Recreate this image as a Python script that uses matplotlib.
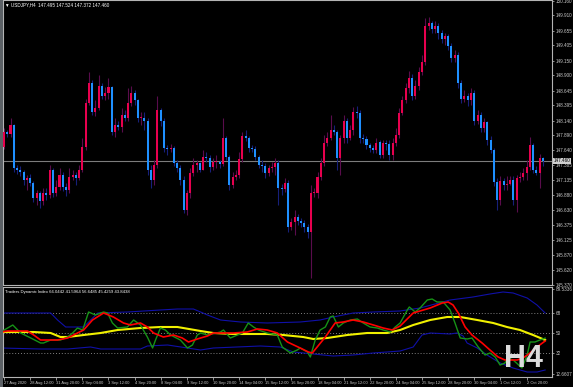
import matplotlib
matplotlib.use('Agg')
import matplotlib.pyplot as plt

# USDJPY H4 candles, one value per bar (bar 0 = 27 Aug 2020 04:00)
first_open = 147.69
closes = [147.94, 147.91, 148.06, 147.34, 147.30, 147.27, 147.14, 147.17, 147.09, 146.83,
          146.92, 146.78, 146.92, 146.88, 147.30, 146.92, 147.02, 147.22, 147.02, 146.97,
          147.19, 147.22, 147.17, 147.30, 147.69, 148.43, 148.78, 148.28, 148.35, 148.73,
          148.56, 148.60, 148.70, 147.94, 148.06, 148.03, 148.23, 148.19, 148.43, 148.60,
          148.48, 148.18, 148.19, 148.14, 147.30, 147.14, 147.39, 148.31, 148.14, 147.67,
          147.66, 147.67, 147.42, 147.34, 147.14, 146.63, 146.92, 147.25, 147.39, 147.42,
          147.30, 147.52, 147.51, 147.35, 147.44, 147.44, 147.40, 147.84, 147.52, 147.05,
          147.19, 147.22, 147.49, 147.88, 147.84, 147.67, 147.66, 147.52, 147.39, 147.37,
          147.25, 147.34, 147.35, 147.42, 147.00, 146.99, 147.09, 146.35, 146.43, 146.51,
          146.45, 146.41, 146.35, 146.26, 146.92, 146.92, 147.19, 147.42, 147.77, 147.84,
          147.98, 147.94, 147.51, 147.84, 148.14, 147.84, 147.98, 148.28, 148.26, 147.84,
          147.83, 147.72, 147.67, 147.64, 147.77, 147.56, 147.76, 147.74, 147.56, 147.76,
          147.89, 148.26, 148.48, 148.68, 148.85, 148.56, 148.73, 148.95, 149.12, 149.74,
          149.79, 149.69, 149.74, 149.61, 149.52, 149.56, 149.40, 149.19, 149.24, 148.78,
          148.51, 148.56, 148.48, 148.61, 148.14, 148.23, 148.01, 148.11, 147.81, 147.64,
          147.10, 146.80, 147.12, 147.05, 147.07, 147.14, 146.80, 147.17, 147.19, 147.25,
          147.35, 147.72, 147.30, 147.25, 147.51, 147.46]
highs = [148.01, 147.98, 148.18, 148.09, 147.39, 147.37, 147.30, 147.22, 147.24, 147.12,
         146.97, 146.95, 147.00, 147.00, 147.39, 147.34, 147.14, 147.34, 147.27, 147.09,
         147.34, 147.30, 147.27, 147.39, 147.84, 148.51, 148.95, 148.82, 148.48, 148.90,
         148.78, 148.70, 148.85, 148.73, 148.18, 148.14, 148.35, 148.31, 148.68, 148.72,
         148.65, 148.51, 148.28, 148.28, 148.18, 147.39, 147.47, 148.56, 148.35, 148.18,
         147.72, 147.74, 147.71, 147.47, 147.39, 147.20, 146.97, 147.34, 147.51, 147.47,
         147.44, 147.64, 147.61, 147.56, 147.51, 147.56, 147.47, 148.18, 147.88, 147.56,
         147.27, 147.30, 147.61, 147.94, 147.98, 147.88, 147.72, 147.71, 147.56, 147.47,
         147.42, 147.39, 147.44, 147.51, 147.47, 147.07, 147.17, 147.14, 146.50, 146.63,
         146.57, 146.50, 146.46, 146.40, 147.05, 147.00, 147.27, 147.51, 147.89, 147.94,
         148.23, 148.06, 147.98, 147.89, 148.24, 148.18, 148.06, 148.36, 148.38, 148.31,
         147.91, 147.88, 147.77, 147.72, 147.84, 147.81, 147.81, 147.81, 147.81, 147.84,
         148.01, 148.35, 148.56, 148.78, 148.98, 148.92, 148.82, 149.05, 149.24, 149.86,
         149.89, 149.82, 149.82, 149.79, 149.66, 149.62, 149.59, 149.45, 149.32, 149.29,
         148.82, 148.65, 148.61, 148.68, 148.65, 148.31, 148.28, 148.18, 148.14, 147.88,
         147.67, 147.17, 147.20, 147.17, 147.20, 147.20, 147.20, 147.22, 147.27, 147.34,
         147.47, 147.86, 147.76, 147.37, 147.57, 147.52]
lows = [147.66, 147.86, 147.86, 147.27, 147.24, 147.20, 147.05, 146.97, 147.04, 146.77,
        146.72, 146.67, 146.72, 146.80, 146.83, 146.85, 146.87, 146.97, 146.95, 146.87,
        146.92, 147.14, 147.05, 147.14, 147.27, 147.64, 148.40, 148.23, 148.21, 148.31,
        148.51, 148.48, 148.51, 147.89, 147.86, 147.98, 147.94, 148.14, 148.14, 148.38,
        148.40, 148.11, 148.06, 147.98, 147.22, 147.00, 147.05, 147.34, 148.04, 147.61,
        147.56, 147.61, 147.37, 147.27, 147.05, 146.58, 146.55, 146.83, 147.20, 147.27,
        147.27, 147.30, 147.44, 147.27, 147.30, 147.34, 147.34, 147.37, 147.47, 146.97,
        147.00, 147.14, 147.17, 147.44, 147.79, 147.61, 147.61, 147.47, 147.34, 147.27,
        147.17, 147.20, 147.27, 147.22, 146.72, 146.88, 146.93, 146.26, 146.30, 146.21,
        146.38, 146.35, 146.26, 146.16, 145.49, 146.85, 146.83, 147.14, 147.37, 147.71,
        147.81, 147.89, 147.30, 147.22, 147.77, 147.77, 147.81, 147.89, 148.18, 147.77,
        147.76, 147.66, 147.61, 147.59, 147.59, 147.51, 147.51, 147.64, 147.47, 147.47,
        147.71, 147.84, 148.23, 148.43, 148.61, 148.48, 148.51, 148.65, 148.90, 149.07,
        149.66, 149.61, 149.62, 149.52, 149.45, 149.42, 149.32, 149.12, 149.12, 148.68,
        148.43, 148.46, 148.38, 148.41, 148.06, 148.09, 147.94, 147.94, 147.72, 147.59,
        147.04, 146.63, 146.72, 146.97, 146.97, 147.05, 146.72, 146.60, 147.10, 147.14,
        147.14, 147.30, 147.25, 147.22, 147.00, 147.37]
last_price = 147.46

# Traders Dynamic Index lines, (bar position, value)
rsi_x = [-1, 2.7, 5.1, 8.2, 11.2, 12.1, 14.3, 17.3, 19.5, 21.0, 22.5, 24.1, 25.9, 28.0, 30.5,
         31.7, 33.2, 34.8, 37.8, 39.7, 41.8, 43.9, 45.5, 46.4, 47.9, 49.4, 51.0, 54.0, 56.2,
         57.7, 59.2, 60.2, 62.3, 66.3, 67.2, 69.3, 71.5, 73.0, 74.8, 76.4, 77.9, 80.6, 83.7,
         85.2, 87.7, 89.8, 90.7, 92.9, 93.8, 95.3, 96.8, 98.4, 99.9, 100.8, 102.4, 103.9,
         106.0, 108.2, 110.0, 112.1, 114.3, 116.1, 118.3, 119.8, 121.3, 123.5, 124.1, 125.9,
         127.4, 129.6, 131.1, 132.6, 134.5, 136.6, 138.1, 139.7, 141.8, 143.3, 145.2, 147.3,
         148.8, 150.4, 151.9, 153.4, 154.3, 155.9, 158.6, 160.2, 161.1, 162.6, 164.1, 165.7]
rsi_v = [50.9, 57.2, 50.0, 45.5, 41.0, 41.0, 43.7, 43.7, 46.4, 50.0, 54.5, 52.7, 68.9, 66.2, 68.9,
         68.0, 59.0, 54.5, 55.4, 61.7, 57.2, 46.4, 36.5, 43.7, 54.5, 52.7, 48.2, 43.7, 36.5,
         39.2, 48.2, 50.0, 48.2, 50.9, 52.7, 45.5, 48.2, 50.0, 59.0, 55.4, 52.7, 50.0, 48.2,
         37.4, 32.0, 34.7, 36.5, 32.9, 28.4, 43.7, 52.7, 55.4, 64.4, 65.3, 55.4, 59.0,
         61.7, 62.6, 59.0, 55.4, 54.5, 52.7, 50.9, 55.4, 59.0, 70.7, 73.4, 68.9,
         72.5, 79.7, 80.6, 77.9, 77.9, 70.7, 59.0, 45.5, 44.6, 45.5, 37.4, 30.2,
         32.0, 28.4, 21.2, 23.0, 27.5, 25.7, 18.5, 30.2, 41.9, 41.9, 43.7, 45.4]

signal_x = [-1, 1.1, 7.2, 9.1, 11.2, 13.4, 16.4, 19.5, 22.5, 24.4, 27.1, 30.5, 33.5, 36.6, 38.7,
            41.8, 43.9, 45.8, 48.8, 51.9, 54.6, 56.5, 59.2, 60.2, 62.3, 64.1, 70.2, 74.5, 77.6,
            80.6, 83.7, 86.8, 90.7, 93.2, 94.4, 95.9, 98.4, 99.9, 101.4, 103.9, 106.9, 110.0,
            113.1, 116.1, 118.9, 121.3, 125.3, 130.5, 134.2, 136.0, 137.5, 139.1, 141.2, 143.3,
            146.4, 148.8, 151.3, 153.4, 157.1, 158.9, 161.1, 163.2, 165.7]
signal_v = [50.9, 51.8, 51.8, 48.2, 43.7, 43.7, 43.7, 45.5, 50.0, 52.7, 61.7, 68.0, 64.4, 59.0, 57.2,
            59.0, 55.4, 50.0, 46.4, 48.2, 45.5, 41.9, 44.6, 45.5, 47.3, 50.0, 50.0, 50.9, 53.6,
            52.7, 50.0, 41.9, 36.5, 32.9, 32.0, 37.4, 46.4, 52.7, 59.0, 59.9, 61.7, 59.9,
            57.2, 54.5, 52.7, 56.3, 68.0, 72.5, 77.0, 77.9, 75.2, 68.0, 55.4, 48.2,
            41.0, 34.7, 28.4, 25.7, 25.7, 27.5, 32.0, 37.4, 42.8]

base_x = [-1, 9.1, 14.3, 17.3, 19.5, 24.4, 29.6, 34.8, 41.8, 47.9, 53.1, 60.2, 64.1, 70.2, 80.6,
          85.5, 91.6, 94.7, 99.0, 105.1, 111.2, 117.3, 121.3, 125.3, 130.5, 135.7, 139.7, 144.9,
          149.8, 154.0, 158.0, 162.0, 165.7]
base_v = [50.9, 50.9, 50.0, 46.4, 46.4, 48.2, 50.0, 52.7, 54.5, 55.4, 55.4, 51.8, 50.0, 49.1, 49.1,
          48.2, 46.4, 44.6, 45.5, 48.2, 50.0, 50.0, 52.7, 57.2, 61.7, 64.4, 64.4, 61.7,
          59.0, 55.4, 52.7, 48.2, 43.7]

upper_x = [-1, 14.3, 16.4, 18.9, 24.4, 28.7, 37.8, 47.9, 53.1, 58.0, 60.2, 62.3, 66.3, 72.4, 80.6,
           90.7, 96.8, 100.8, 106.9, 113.1, 121.3, 127.4, 136.6, 143.6, 148.8, 152.8, 155.9,
           160.2, 163.2, 165.7]
upper_v = [68.0, 68.0, 61.7, 55.4, 55.4, 68.0, 68.9, 70.7, 71.6, 71.6, 68.9, 66.2, 61.7, 59.9, 59.0,
           59.9, 61.7, 64.4, 68.0, 68.9, 69.8, 72.5, 79.7, 82.4, 85.1, 86.9, 86.0,
           81.5, 75.2, 68.0]

lower_x = [-1, 11.2, 19.5, 26.5, 29.6, 41.8, 43.9, 50.1, 60.2, 64.1, 78.5, 84.6, 88.6, 94.7, 100.8,
           106.9, 113.1, 121.3, 125.3, 128.0, 130.5, 136.6, 138.7, 140.6, 141.8, 144.9, 147.9,
           151.9, 155.9, 160.2, 163.2, 165.7]
lower_v = [36.5, 35.6, 35.6, 37.4, 35.6, 35.6, 38.3, 39.2, 34.7, 36.5, 38.3, 37.4, 32.9, 31.1, 29.3,
           30.2, 32.0, 33.8, 37.4, 48.2, 50.0, 49.1, 50.0, 47.3, 41.0, 36.5, 30.2,
           23.0, 18.5, 14.9, 14.9, 16.7]

tdi_levels = [68, 50, 32]

price_ticks = [145.370, 145.620, 145.870, 146.125, 146.375, 146.630, 146.880, 147.135, 147.385,
               147.640, 147.890, 148.140, 148.395, 148.645, 148.900, 149.150, 149.405, 149.655,
               149.910, 150.160]
date_labels = ['27 Aug 2020', '28 Aug 12:00', '31 Aug 20:00', '2 Sep 04:00', '3 Sep 12:00',
               '4 Sep 20:00', '8 Sep 04:00', '9 Sep 12:00', '10 Sep 20:00', '14 Sep 04:00',
               '15 Sep 12:00', '16 Sep 20:00', '18 Sep 04:00', '21 Sep 12:00', '22 Sep 20:00',
               '24 Sep 04:00', '25 Sep 12:00', '28 Sep 20:00', '30 Sep 04:00', '1 Oct 12:00',
               '2 Oct 20:00']

UP, DOWN = '#e8004e', '#1e90ff'
UP_WICK, DOWN_WICK = '#5a0c4c', '#16207a'
FG = '#c8c8c8'
W, H = 573, 387

plt.rcParams['font.family'] = ['Liberation Sans', 'DejaVu Sans']

fig = plt.figure(figsize=(W / 100, H / 100), dpi=100, facecolor='black')
ax = fig.add_axes([3 / W, 1 - 285 / H, 549 / W, 285 / H], facecolor='black')
sub = fig.add_axes([3 / W, 1 - 377 / H, 549 / W, 90 / H], facecolor='black', sharex=ax)
fig.patches.append(plt.Rectangle((0, 0), 3 / W, 1, transform=fig.transFigure,
                                 facecolor='#5c6166', edgecolor='none'))

# candles
opens = [first_open] + closes[:-1]
for i, (o, h, l, c) in enumerate(zip(opens, highs, lows, closes)):
    up = c >= o
    ax.vlines(i, l, h, color=UP_WICK if up else DOWN_WICK, lw=0.8, zorder=2)
    ax.bar(i, max(abs(c - o), 0.012), bottom=min(o, c), width=0.62,
           color=UP if up else DOWN, linewidth=0, zorder=3)

ax.axhline(last_price, color='#7c7c7c', lw=0.8, zorder=1)
ax.set_xlim(-0.3, 167.8)
ax.set_ylim(145.37, 150.17)

ax.yaxis.tick_right()
ax.set_yticks(price_ticks)
ax.set_yticklabels(['%.3f' % p for p in price_ticks])
ax.tick_params(axis='y', colors=FG, labelsize=3.3, length=1.5, width=0.5, pad=1)
ax.tick_params(axis='x', bottom=False, labelbottom=False)
ax.text(1.003, last_price, '%.3f' % last_price, transform=ax.get_yaxis_transform(),
        fontsize=3.3, color='black', va='center', ha='left',
        bbox=dict(facecolor='#d0d0d0', edgecolor='none', pad=0.4))
ax.text(0.004, 0.993, '\u25bc USDJPY,H4  147.495 147.524 147.372 147.460',
        transform=ax.transAxes, fontsize=3.3, color='white', va='top', ha='left')

# TDI subwindow
for v in tdi_levels:
    sub.axhline(v, color='#808080', lw=0.7, ls=(0, (1, 2)), zorder=1)
sub.plot(upper_x, upper_v, color='#1010a8', lw=0.8, zorder=2)
sub.plot(lower_x, lower_v, color='#1010a8', lw=0.8, zorder=2)
sub.plot(base_x, base_v, color='#f0f000', lw=1.5, zorder=3)
sub.plot(rsi_x, rsi_v, color='#169216', lw=1.0, zorder=4)
sub.plot(signal_x, signal_v, color='#ff0000', lw=1.2, zorder=5)
sub.set_ylim(10.4, 91.4)

sub.yaxis.tick_right()
sub.set_yticks([89.5336] + tdi_levels + [12.6607])
sub.set_yticklabels(['89.5336', '68', '50', '32', '12.6607'])
sub.tick_params(axis='y', colors=FG, labelsize=3.3, length=1.5, width=0.5, pad=1)
sub.set_xticks(range(0, 8 * len(date_labels), 8))
sub.set_xticklabels(date_labels)
sub.tick_params(axis='x', colors=FG, labelsize=2.9, length=2, width=0.5, pad=1)
for lbl in sub.get_xticklabels():
    lbl.set_ha('left')
sub.text(0.004, 0.97, 'Traders Dynamic Index 66.0442 41.5964 56.6485 45.4259 43.8438',
         transform=sub.transAxes, fontsize=3.1, color='white', va='top', ha='left')
sub.text(0.983, 0.03, 'H4', transform=sub.transAxes, fontsize=22, fontweight='bold',
         color='#dcdcdc', va='bottom', ha='right', zorder=6)

for a in (ax, sub):
    for s in a.spines.values():
        s.set_color('#b4b4b4')
        s.set_linewidth(0.8)

fig.savefig('out.png', dpi=100, facecolor='black')
